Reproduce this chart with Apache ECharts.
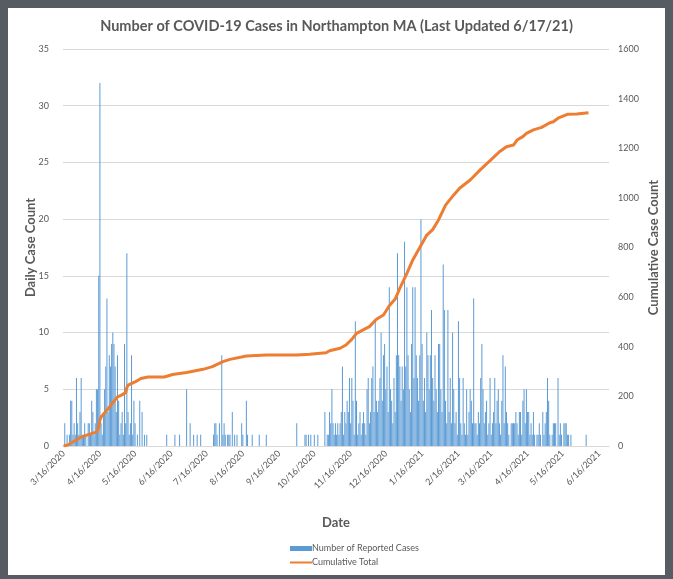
<!DOCTYPE html>
<html>
<head>
<meta charset="utf-8">
<script src="https://cdn.jsdelivr.net/npm/echarts@6/dist/echarts.min.js"></script>
<style>
  html, body { margin: 0; padding: 0; background: #565c61; }
  #chart { position: absolute; left: 8px; top: 8px; width: 657px; height: 567px; background: #fff; }
</style>
</head>
<body>
<div id="chart"></div>
<script>
// daily reported cases, one array per month
var mar2020 = [0,2,0,1,0,1,4,4,1,2,1,6,2,1,3,6];
var apr2020 = [1,1,2,1,0,2,2,1,4,3,1,2,5,5,15,32,2,1,3,5,7,13,3,8,7,9,10,9,7,3];
var may2020 = [8,4,1,2,3,1,9,2,17,3,1,2,8,1,4,2,0,1,0,4,0,3,0,1,0,1,0,0,0,0,0];
var jun2020 = [0,0,0,0,0,0,0,0,0,0,0,1,0,0,0,0,0,0,1,0,0,0,1,0,0,0,0,0,5,0];
var jul2020 = [0,2,0,0,1,0,0,1,0,0,1,0,0,0,0,0,0,0,0,0,0,1,2,2,1,0,2,0,8,1,2];
var aug2020 = [1,0,1,1,1,0,3,0,1,0,1,0,0,0,2,1,0,0,4,1,0,0,0,1,0,0,0,0,0,1,0];
var sep2020 = [0,0,0,0,1,0,0,0,0,0,0,0,0,0,0,0,0,0,0,0,0,0,0,0,0,0,0,0,0,0];
var oct2020 = [2,0,0,0,0,0,0,1,1,0,1,0,1,0,0,1,0,0,1,0,0,0,0,0,3,0,1,1,3,2,5];
var nov2020 = [2,1,2,1,2,1,2,3,7,1,3,2,4,3,6,2,6,4,1,11,4,1,2,3,1,2,3,2,1,5];
var dec2020 = [6,2,3,6,7,3,11,4,3,4,6,10,4,8,9,5,7,3,14,5,4,2,6,3,8,17,8,7,4,7,5];
var jan2021 = [18,7,14,8,5,3,9,14,6,14,8,6,4,8,20,9,4,6,3,10,8,5,8,12,6,4,8,5,3,9,9];
var feb2021 = [5,3,16,12,4,2,12,3,6,2,10,5,2,3,1,11,6,2,1,6,2,1,5,1,3,5,4,2];
var mar2021 = [13,2,2,1,3,2,6,9,5,2,3,4,1,2,6,1,2,3,6,2,4,5,2,1,4,8,2,7,3,2,1];
var apr2021 = [0,2,2,2,2,3,2,1,3,3,1,4,5,2,5,3,3,1,2,1,3,1,0,1,1,2,1,0,3,1];
var may2021 = [2,3,6,4,1,0,1,2,2,2,0,6,1,2,1,0,2,2,2,1,1,0,1,0,0,0,0,0,0,0,0];
var jun2021 = [0,0,0,0,1,0,0];

// cumulative total, read at points along the orange line
var cumDates = ['3/16/2020','3/19/2020','3/24/2020','3/31/2020','4/6/2020','4/13/2020','4/15/2020','4/16/2020','4/17/2020',
  '4/23/2020','5/1/2020','5/4/2020','5/8/2020','5/9/2020','5/10/2020','5/16/2020','5/21/2020','5/27/2020','6/10/2020',
  '6/17/2020','6/29/2020','7/13/2020','7/21/2020','7/30/2020','8/5/2020','8/19/2020','9/5/2020','10/1/2020','10/12/2020',
  '10/21/2020','10/26/2020','10/29/2020','11/7/2020','11/12/2020','11/17/2020','11/21/2020','12/2/2020','12/8/2020',
  '12/14/2020','12/19/2020','12/24/2020','12/28/2020','1/3/2021','1/8/2021','1/14/2021','1/20/2021','1/25/2021',
  '1/30/2021','2/5/2021','2/12/2021','2/17/2021','2/26/2021','3/7/2021','3/15/2021','3/23/2021','3/29/2021','4/4/2021',
  '4/7/2021','4/12/2021','4/15/2021','4/21/2021','4/28/2021','5/5/2021','5/8/2021','5/12/2021','5/20/2021','5/28/2021','6/7/2021'];
var cumTotals = [0,3,16,36,46,56,73,105,117,
  150,198,204,215,235,245,258,272,278,278,
  288,296,309,320,340,349,363,367,367,370,
  374,376,384,394,407,430,454,481,511,
  528,565,592,636,696,750,800,850,872,
  911,971,1012,1039,1072,1115,1150,1186,1206,1213,
  1233,1247,1260,1274,1284,1303,1307,1321,1337,1338,1343];

var leftTicks = { min: 0, max: 35, step: 5 };
var rightTicks = { min: 0, max: 1600, step: 200 };

var dailyCases = [].concat(mar2020, apr2020, may2020, jun2020, jul2020, aug2020, sep2020, oct2020,
  nov2020, dec2020, jan2021, feb2021, mar2021, apr2021, may2021, jun2021);

// one category per day, 3/16/2020 .. 6/24/2021
var dates = [];
var start = Date.UTC(2020, 2, 16);
for (var i = 0; i < 466; i++) {
  var d = new Date(start + i * 86400000);
  dates.push((d.getUTCMonth() + 1) + '/' + d.getUTCDate() + '/' + d.getUTCFullYear());
}

var cumData = cumDates.map(function (c, k) { return [c, cumTotals[k]]; });

var grey = '#595959';
var font = 'Lato, "Open Sans", sans-serif';

var myChart = echarts.init(document.getElementById('chart'));
var option = {
  animation: false,
  backgroundColor: '#fff',
  textStyle: { fontFamily: font },
  title: {
    text: 'Number of COVID-19 Cases in Northampton MA (Last Updated 6/17/21)',
    left: 'center',
    top: 6,
    textStyle: { color: grey, fontSize: 14.5, fontWeight: 'bold', fontFamily: font }
  },
  grid: { left: 55, right: 56, top: 41, bottom: 129, outerBoundsMode: 'none' },
  legend: {
    orient: 'vertical',
    left: 276,
    top: 531,
    itemWidth: 22,
    itemHeight: 5,
    itemGap: 5,
    textStyle: { color: grey, fontSize: 9, fontFamily: font, padding: [0, 0, 0, -5] },
    data: [
      { name: 'Number of Reported Cases', icon: 'rect' },
      { name: 'Cumulative Total', itemStyle: { opacity: 0 } }
    ]
  },
  xAxis: {
    type: 'category',
    data: dates,
    name: 'Date',
    nameLocation: 'middle',
    nameGap: 70,
    nameMoveOverlap: false,
    nameTextStyle: { color: grey, fontSize: 13, fontWeight: 'bold', fontFamily: font },
    axisLine: { lineStyle: { color: '#d9d9d9' } },
    axisTick: { show: false },
    axisLabel: {
      rotate: 45,
      color: grey,
      fontSize: 9,
      margin: 6,
      interval: function (index, value) { return value.split('/')[1] === '16'; }
    }
  },
  yAxis: [{
    type: 'value',
    min: leftTicks.min,
    max: leftTicks.max,
    interval: leftTicks.step,
    name: 'Daily Case Count',
    nameLocation: 'middle',
    nameRotate: 90,
    nameGap: 26,
    nameMoveOverlap: false,
    nameTextStyle: { color: grey, fontSize: 13, fontWeight: 'bold', fontFamily: font },
    axisLabel: { color: grey, fontSize: 9, margin: 14 },
    splitLine: { lineStyle: { color: '#d9d9d9' } }
  }, {
    type: 'value',
    min: rightTicks.min,
    max: rightTicks.max,
    interval: rightTicks.step,
    name: 'Cumulative Case Count',
    nameLocation: 'middle',
    nameRotate: 90,
    nameGap: 38,
    nameMoveOverlap: false,
    nameTextStyle: { color: grey, fontSize: 13, fontWeight: 'bold', fontFamily: font },
    axisLabel: { color: grey, fontSize: 9, margin: 9, formatter: function (v) { return String(v); } },
    splitLine: { show: false }
  }],
  series: [{
    name: 'Number of Reported Cases',
    type: 'bar',
    data: dailyCases,
    barCategoryGap: '15%',
    itemStyle: { color: '#5b9bd5' }
  }, {
    name: 'Cumulative Total',
    type: 'line',
    yAxisIndex: 1,
    data: cumData,
    symbol: 'none',
    lineStyle: { color: '#ed7d31', width: 3 },
    itemStyle: { color: '#ed7d31' }
  }]
};
myChart.setOption(option);
</script>
</body>
</html>
